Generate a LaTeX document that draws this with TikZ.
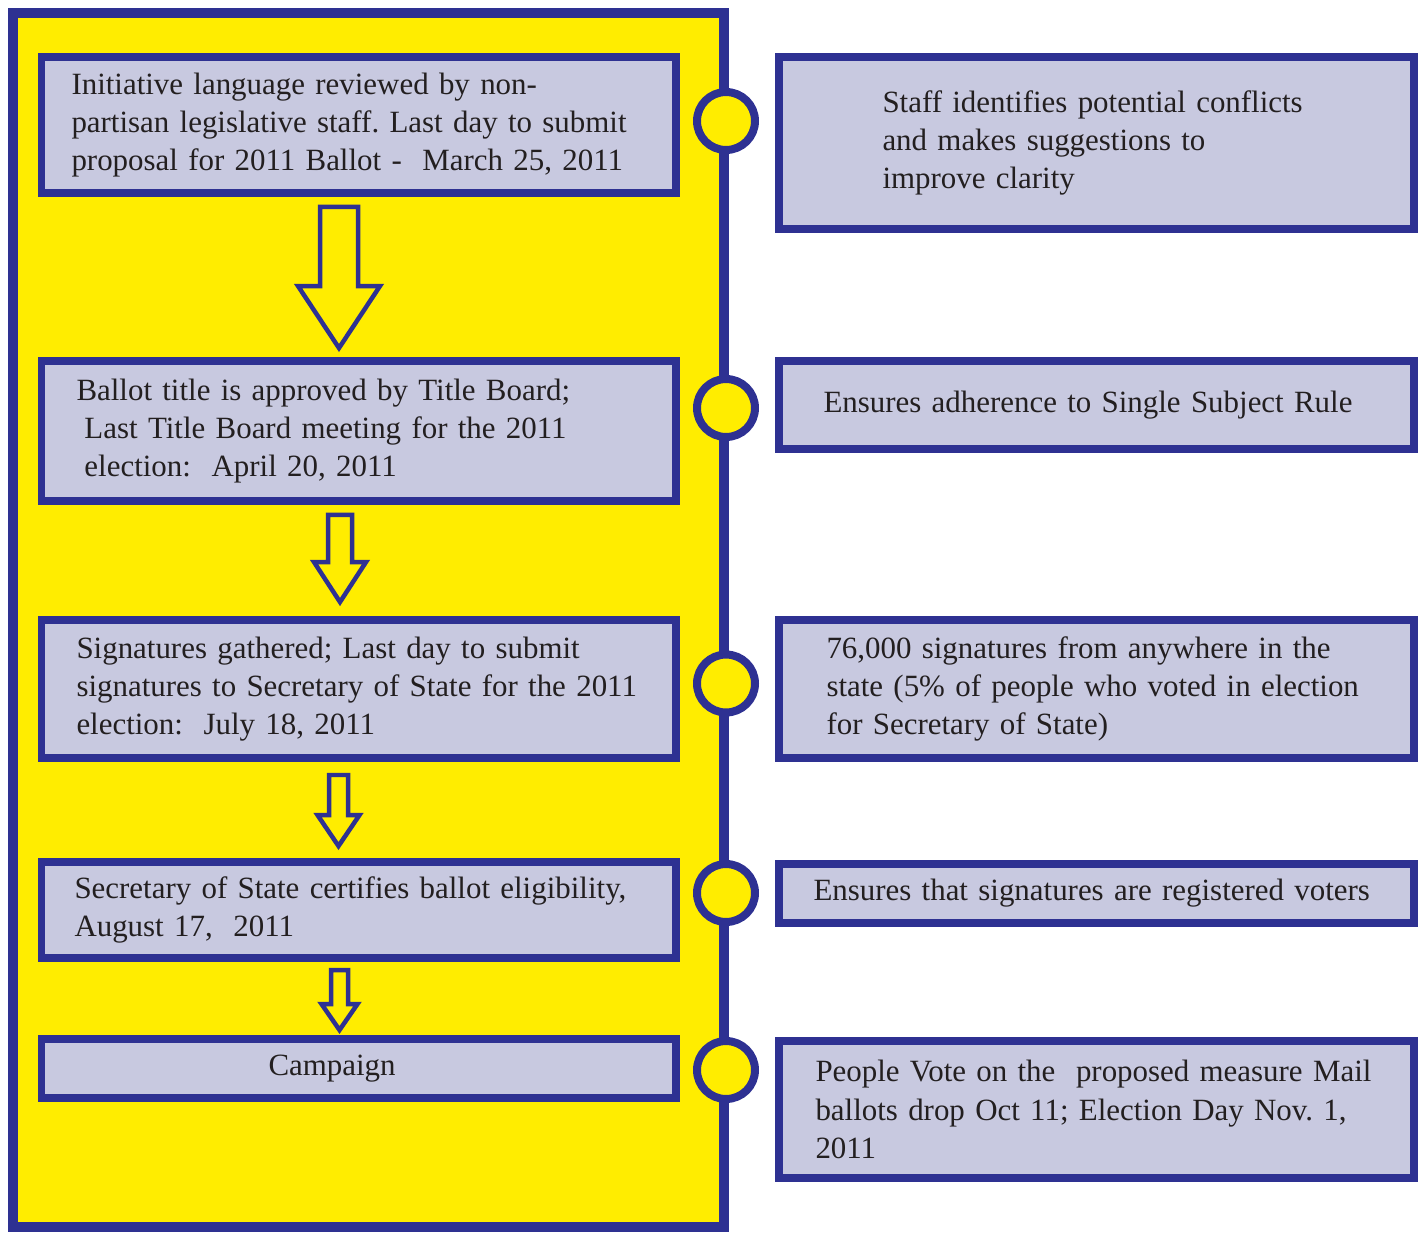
\documentclass[tikz,border=0pt]{standalone}
\usepackage{fontspec}
\setmainfont{Liberation Serif}
\usetikzlibrary{calc,positioning}

\definecolor{frameblue}{RGB}{46,49,146}
\definecolor{signyellow}{RGB}{255,237,0}
\definecolor{boxlilac}{RGB}{200,201,224}
\definecolor{inkgray}{RGB}{35,31,32}

\frenchspacing
\newcommand{\boxfont}{\fontsize{17.6pt}{21.8pt}\selectfont}
% hollow down arrow: top, tip, shaft half width, head half width, head length
\newcommand{\flowarrow}[5]{%
  \path #1 coordinate (at) #2 coordinate (ap);
  \draw[hollow] ($(at)+(-#3,0)$) -- ($(at)+(#3,0)$) -- ($(ap)+(#3,-#5)$) -- ($(ap)+(#4,-#5)$)
    -- (ap) -- ($(ap)+(-#4,-#5)$) -- ($(ap)+(-#3,-#5)$) -- cycle;
}

\begin{document}
\begin{tikzpicture}[
    x=0.02cm, y=-0.02cm,
    every node/.style={font=\boxfont, text=inkgray},
    stepbox/.style={rectangle, draw=frameblue, fill=boxlilac, line width=0.16cm, outer sep=0pt, inner ysep=0pt, align=left, minimum width=12.66cm},
    notebox/.style={stepbox, minimum width=12.7cm},
    leftpad/.style={inner xsep=#1*0.02cm, text width={(634-2*#1)*0.02cm}},
    dot/.style={circle, draw=frameblue, fill=signyellow, line width=0.16cm, minimum size=1.16cm, inner sep=0pt},
    hollow/.style={draw=frameblue, fill=signyellow, line width=0.09cm},
]
\useasboundingbox (0,0) rectangle (1421,1235);

% yellow panel
\draw[draw=frameblue, fill=signyellow, line width=0.2cm] (13,13) rectangle (724,1227);

% steps
\node[stepbox, leftpad=30, minimum height=2.72cm] (b1) at (358.5,125) {Initiative language reviewed by non-\\partisan legislative staff. Last day to submit\\proposal for 2011 Ballot -~ March 25, 2011};
\node[stepbox, leftpad=35, minimum height=2.8cm] (b2) at (358.5,431) {Ballot title is approved by Title Board;\\\hspace*{0.16cm}Last Title Board meeting for the 2011\\\hspace*{0.16cm}election:~ April 20, 2011};
\node[stepbox, leftpad=35, minimum height=2.76cm] (b3) at (358.5,689) {Signatures gathered; Last day to submit\\signatures to Secretary of State for the 2011\\election:~ July 18, 2011};
\node[stepbox, leftpad=33, minimum height=1.92cm] (b4) at (358.5,910) {Secretary of State certifies ballot eligibility,\\August 17,~ 2011};
\node[stepbox, leftpad=227, minimum height=1.18cm] (b5) at (358.5,1068.5) {Campaign};

% notes
\node[notebox, leftpad=103, minimum height=3.44cm] (n1) at (1096.5,143) {Staff identifies potential conflicts\\and makes suggestions to\\improve clarity};
\node[notebox, leftpad=44, minimum height=1.76cm] (n2) at (1096.5,405) {Ensures adherence to Single Subject Rule};
\node[notebox, leftpad=47, minimum height=2.76cm] (n3) at (1096.5,689) {76,000 signatures from anywhere in the\\state (5\% of people who voted in election\\for Secretary of State)};
\node[notebox, leftpad=34, minimum height=1.18cm] (n4) at (1096.5,893.5) {Ensures that signatures are registered voters};
\node[notebox, leftpad=36, minimum height=2.74cm] (n5) at (1096.5,1109.5) {People Vote on the~ proposed measure Mail\\ballots drop Oct 11; Election Day Nov. 1,\\2011};

% timeline dots
\node[dot] (c1) at (726,121) {};
\node[dot] (c2) at (726,408) {};
\node[dot] (c3) at (726,683.5) {};
\node[dot] (c4) at (726,893) {};
\node[dot] (c5) at (726,1070) {};

% arrows
\flowarrow{($(b1.south)+(-19.5,14)$)}{($(b2.north)+(-19.5,-13)$)}{19}{41}{62}
\flowarrow{($(b2.south)+(-18.5,14)$)}{($(b3.north)+(-18.5,-18)$)}{12}{26}{40}
\flowarrow{($(b3.south)+(-20,17)$)}{($(b4.north)+(-20,-16)$)}{9.5}{21}{31}
\flowarrow{($(b4.south)+(-19,12)$)}{($(b5.north)+(-19,-9)$)}{8.5}{18}{26}
\end{tikzpicture}
\end{document}
